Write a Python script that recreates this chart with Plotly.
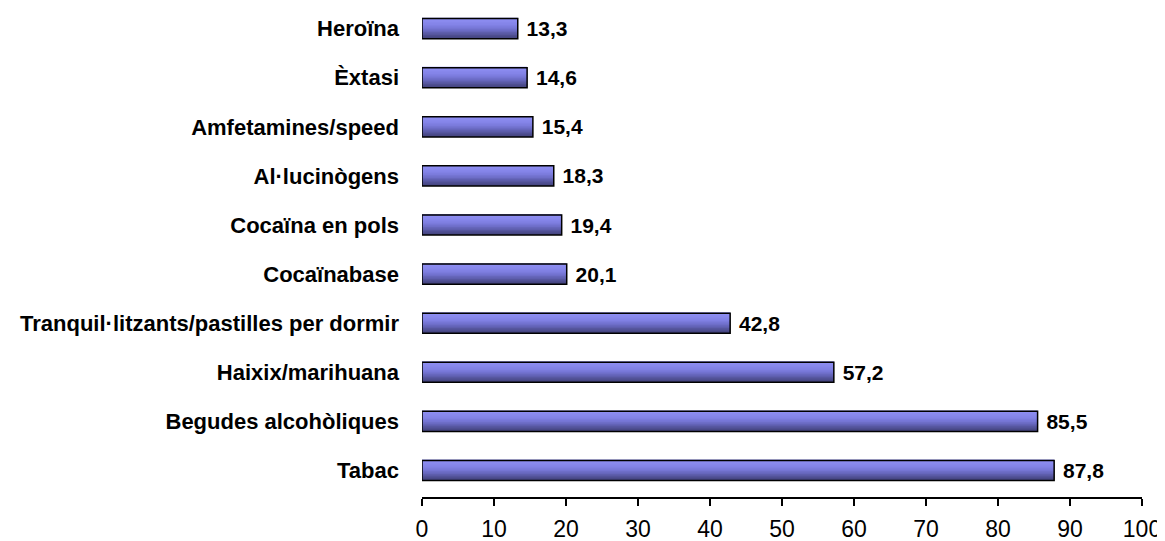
import plotly.graph_objects as go

# Prevalença de consum (%) per substància, de baix a dalt
substancies = [
    "Tabac",
    "Begudes alcohòliques",
    "Haixix/marihuana",
    "Tranquil·litzants/pastilles per dormir",
    "Cocaïnabase",
    "Cocaïna en pols",
    "Al·lucinògens",
    "Amfetamines/speed",
    "Èxtasi",
    "Heroïna",
]
percentatges = [87.8, 85.5, 57.2, 42.8, 20.1, 19.4, 18.3, 15.4, 14.6, 13.3]
etiquetes = [f"{v:.1f}".replace(".", ",") for v in percentatges]

# colors of the vertical gradient, top to bottom
degradat = ["#9090f4", "#8d8df1", "#8a8aee", "#8787eb", "#8484e8", "#8080e3",
            "#7b7bdc", "#7575d3", "#6e6ec8", "#6666bb", "#5e5ead", "#56569e",
            "#4e4e90", "#474783"]

amplada = 0.41
franja = amplada / len(degradat)

fig = go.Figure()

# draw the gradient as thin stacked strips
for i, color in enumerate(degradat):
    fig.add_trace(go.Bar(
        x=percentatges,
        y=substancies,
        orientation="h",
        width=franja * 1.6,
        offset=amplada / 2 - (i + 1) * franja,
        marker=dict(color=color, line=dict(width=0)),
        hoverinfo="skip",
        showlegend=False,
    ))

# outline and value labels
fig.add_trace(go.Bar(
    x=percentatges,
    y=substancies,
    orientation="h",
    width=amplada,
    offset=-amplada / 2,
    marker=dict(color="rgba(0,0,0,0)", line=dict(color="black", width=1.5)),
    text=[" " + t for t in etiquetes],
    textposition="outside",
    constraintext="none",
    textfont=dict(family="Liberation Sans", size=21, color="black", weight="bold"),
    cliponaxis=False,
    showlegend=False,
))

# the page body adds an 8px margin, so the figure is a bit smaller
fig.update_layout(
    width=1157,
    height=533,
    barmode="overlay",
    plot_bgcolor="white",
    paper_bgcolor="white",
    margin=dict(l=414, r=23, t=0, b=44),
    font=dict(family="Liberation Sans", color="black"),
)

fig.update_xaxes(
    range=[0, 100],
    dtick=10,
    showgrid=False,
    zeroline=False,
    showline=True,
    linecolor="black",
    linewidth=1.5,
    ticks="outside",
    ticklen=7,
    tickwidth=1.5,
    tickcolor="black",
    tickfont=dict(size=23),
    ticklabelstandoff=4,
    automargin=False,
)

fig.update_yaxes(
    categoryorder="array",
    categoryarray=substancies,
    range=[-0.54, 9.42],
    showgrid=False,
    showline=False,
    zeroline=False,
    ticks="",
    tickfont=dict(size=22, weight="bold"),
    ticklabelstandoff=22,
    automargin=False,
)

fig.write_html("out.html")
